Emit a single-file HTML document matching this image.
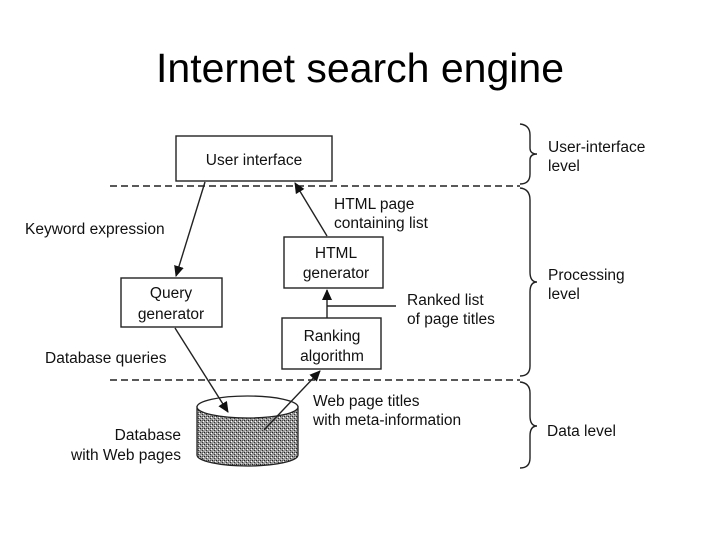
<!DOCTYPE html>
<html><head><style>
body{margin:0;background:#fff;}
svg{display:block;}
text{font-family:"Liberation Sans",Arial,sans-serif;fill:#111;}
</style></head><body>
<svg width="720" height="540" viewBox="0 0 720 540" xmlns="http://www.w3.org/2000/svg">
<defs>
<pattern id="dots" width="4" height="4" patternUnits="userSpaceOnUse">
<rect width="4" height="4" fill="#999"/>
<rect x="0" y="0" width="1" height="1" fill="#222"/>
<rect x="2" y="2" width="1" height="1" fill="#333"/>
<rect x="3" y="1" width="1" height="1" fill="#fff"/>
<rect x="1" y="3" width="1" height="1" fill="#ddd"/>
<rect x="2" y="0" width="1" height="1" fill="#555"/>
</pattern>
<marker id="ah" markerWidth="11" markerHeight="10" refX="10" refY="5" orient="auto" markerUnits="userSpaceOnUse">
<path d="M0,0 L11,5 L0,10 Z" fill="#111"/>
</marker>
</defs>
<text x="360" y="82" font-size="41" text-anchor="middle" style="fill:#000">Internet search engine</text>

<!-- cylinder -->
<path d="M197,407 L197,455 A50.5,11 0 0 0 298,455 L298,407 Z" fill="url(#dots)" stroke="#222" stroke-width="1.3"/>
<ellipse cx="247.5" cy="407" rx="50.5" ry="11" fill="#fff" stroke="#222" stroke-width="1.3"/>

<g stroke="#222" stroke-width="1.4" fill="none">
<line x1="110" y1="186" x2="520" y2="186" stroke-dasharray="7,4"/>
<line x1="110" y1="380" x2="520" y2="380" stroke-dasharray="7,4"/>
<rect x="176" y="136" width="156" height="45"/>
<rect x="121" y="278" width="101" height="49"/>
<rect x="284" y="237" width="99" height="51"/>
<rect x="282" y="318" width="99" height="51"/>
<line x1="205" y1="182" x2="176" y2="276" marker-end="url(#ah)"/>
<line x1="327" y1="236" x2="295" y2="183" marker-end="url(#ah)"/>
<line x1="327" y1="318" x2="327" y2="290" marker-end="url(#ah)"/>
<line x1="327" y1="306" x2="396" y2="306"/>
<line x1="175" y1="328" x2="228" y2="412" marker-end="url(#ah)"/>
<line x1="264" y1="430" x2="320" y2="371" marker-end="url(#ah)"/>
<path d="M520,124 Q530,125 530,135 L530,148 Q530,154 537,154 Q530,154 530,160 L530,174 Q530,184 520,184"/>
<path d="M520,188 Q530,189 530,200 L530,272 Q530,282 537,282 Q530,282 530,292 L530,366 Q530,376 520,376"/>
<path d="M520,382 Q530,383 530,393 L530,416 Q530,426 537,426 Q530,426 530,436 L530,458 Q530,468 520,468"/>
</g>

<g font-size="15.5">
<text x="254" y="165" text-anchor="middle">User interface</text>
<text x="171" y="298" text-anchor="middle">Query</text>
<text x="171" y="319" text-anchor="middle">generator</text>
<text x="336" y="258" text-anchor="middle">HTML</text>
<text x="336" y="278" text-anchor="middle">generator</text>
<text x="332" y="341" text-anchor="middle">Ranking</text>
<text x="332" y="361" text-anchor="middle">algorithm</text>
<text x="25" y="234">Keyword expression</text>
<text x="45" y="363">Database queries</text>
<text x="181" y="440" text-anchor="end">Database</text>
<text x="181" y="460" text-anchor="end">with Web pages</text>
<text x="334" y="209">HTML page</text>
<text x="334" y="228">containing list</text>
<text x="407" y="305">Ranked list</text>
<text x="407" y="324">of page titles</text>
<text x="313" y="406">Web page titles</text>
<text x="313" y="425">with meta-information</text>
<text x="548" y="152">User-interface</text>
<text x="548" y="171">level</text>
<text x="548" y="280">Processing</text>
<text x="548" y="299">level</text>
<text x="547" y="436">Data level</text>
</g>
</svg>
</body></html>
